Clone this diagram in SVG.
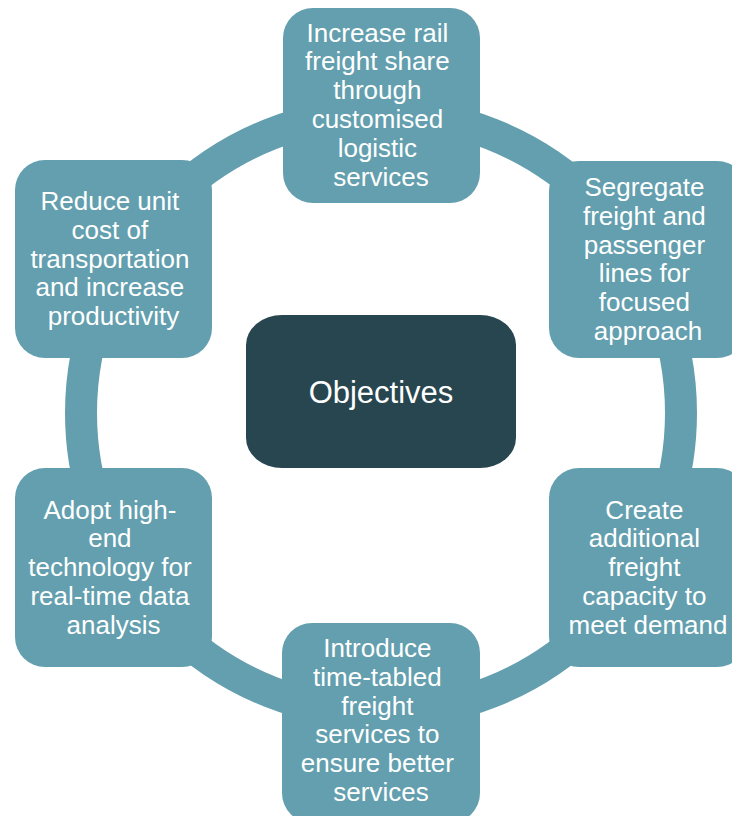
<svg xmlns="http://www.w3.org/2000/svg" width="732" height="816" viewBox="0 0 732 816">
  <style>
    .ring { fill: none; stroke: #639FAE; stroke-width: 32; }
    .box { fill: #639FAE; }
    .hub { fill: #28464F; }
    text { font-family: "Liberation Sans", Arial, sans-serif; fill: #FFFFFF; text-anchor: middle; }
    .lbl { font-size: 26px; }
    .hubtxt { font-size: 31px; }
  </style>
  <rect width="732" height="816" fill="#FFFFFF"/>

  <!-- circular connector joining the six objectives -->
  <g id="connectors">
    <circle class="ring" cx="381" cy="413" r="300"/>
  </g>

  <g id="hub">
    <rect class="hub" x="246" y="315" width="270" height="153" rx="36" ry="30"/>
    <text class="hubtxt" x="381" y="402.5">Objectives</text>
  </g>

  <g id="node-top">
    <rect class="box" x="283" y="8" width="197" height="195" rx="30"/>
    <text class="lbl">
      <tspan x="381" y="41.5">Increase rail</tspan>
      <tspan x="381" dy="28.8">freight share</tspan>
      <tspan x="381" dy="28.8">through</tspan>
      <tspan x="381" dy="28.8">customised</tspan>
      <tspan x="381" dy="28.8">logistic</tspan>
      <tspan x="381" dy="28.8">services</tspan>
    </text>
  </g>

  <g id="node-upper-right">
    <rect class="box" x="549" y="161" width="198" height="197" rx="30"/>
    <text class="lbl">
      <tspan x="648" y="196">Segregate</tspan>
      <tspan x="648" dy="28.8">freight and</tspan>
      <tspan x="648" dy="28.8">passenger</tspan>
      <tspan x="648" dy="28.8">lines for</tspan>
      <tspan x="648" dy="28.8">focused</tspan>
      <tspan x="648" dy="28.8">approach</tspan>
    </text>
  </g>

  <g id="node-lower-right">
    <rect class="box" x="549" y="468" width="198" height="199" rx="30"/>
    <text class="lbl">
      <tspan x="648" y="518.5">Create</tspan>
      <tspan x="648" dy="28.8">additional</tspan>
      <tspan x="648" dy="28.8">freight</tspan>
      <tspan x="648" dy="28.8">capacity to</tspan>
      <tspan x="648" dy="28.8">meet demand</tspan>
    </text>
  </g>

  <g id="node-bottom">
    <rect class="box" x="282" y="623" width="198" height="200" rx="30"/>
    <text class="lbl">
      <tspan x="381" y="657">Introduce</tspan>
      <tspan x="381" dy="28.8">time-tabled</tspan>
      <tspan x="381" dy="28.8">freight</tspan>
      <tspan x="381" dy="28.8">services to</tspan>
      <tspan x="381" dy="28.8">ensure better</tspan>
      <tspan x="381" dy="28.8">services</tspan>
    </text>
  </g>

  <g id="node-lower-left">
    <rect class="box" x="15" y="468" width="197" height="199" rx="30"/>
    <text class="lbl">
      <tspan x="113.5" y="518.5">Adopt high-</tspan>
      <tspan x="113.5" dy="28.8">end</tspan>
      <tspan x="113.5" dy="28.8">technology for</tspan>
      <tspan x="113.5" dy="28.8">real-time data</tspan>
      <tspan x="113.5" dy="28.8">analysis</tspan>
    </text>
  </g>

  <g id="node-upper-left">
    <rect class="box" x="15" y="160" width="197" height="198" rx="30"/>
    <text class="lbl">
      <tspan x="113.5" y="210">Reduce unit</tspan>
      <tspan x="113.5" dy="28.8">cost of</tspan>
      <tspan x="113.5" dy="28.8">transportation</tspan>
      <tspan x="113.5" dy="28.8">and increase</tspan>
      <tspan x="113.5" dy="28.8">productivity</tspan>
    </text>
  </g>
</svg>
